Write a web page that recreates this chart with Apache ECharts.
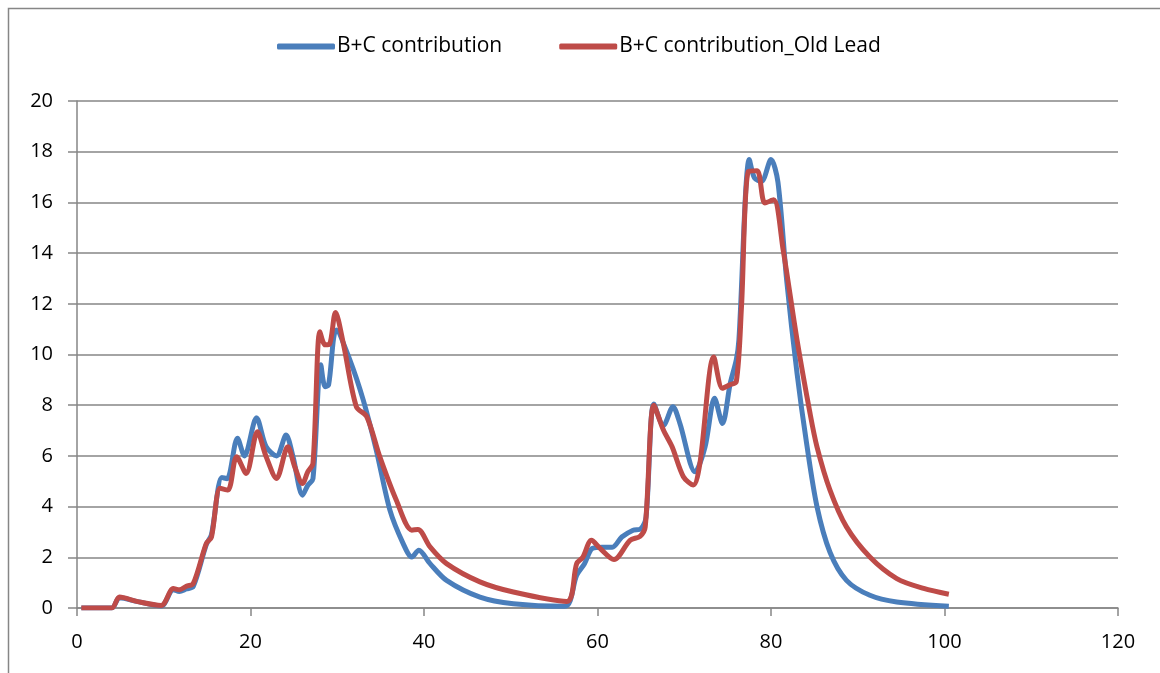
<!DOCTYPE html>
<html><head><meta charset="utf-8">
<script src="https://cdn.jsdelivr.net/npm/echarts@6/dist/echarts.min.js"></script>
<style>html,body{margin:0;padding:0;background:#fff}#c{width:1160px;height:673px}</style>
</head><body><div id="c"></div>
<script>
const seriesNames = ['B+C contribution', 'B+C contribution_Old Lead'];
const xTicks = [0, 20, 40, 60, 80, 100, 120];
const yTicks = [0, 2, 4, 6, 8, 10, 12, 14, 16, 18, 20];
const blueData = [[0.5,0],[4,0],[4.9,0.4],[7,0.25],[9.7,0.08],[11.1,0.72],[11.8,0.65],[12.6,0.75],[13.4,0.85],[14.9,2.5],[15.5,2.9],[16.7,5.15],[17.3,5.1],[18.5,6.7],[19.3,6.0],[20.7,7.5],[21.8,6.36],[23.0,6.0],[24.1,6.82],[24.9,5.97],[26.0,4.45],[26.6,4.84],[27.2,5.1],[28.1,9.6],[28.6,8.73],[29.0,8.8],[29.9,10.97],[31.45,9.79],[33.0,8.2],[34.5,6.23],[36.07,3.86],[37.6,2.54],[38.6,2.01],[39.4,2.28],[40.7,1.75],[42.6,1.09],[46.45,0.43],[50.3,0.17],[56.25,0.07],[57.6,1.29],[58.5,1.75],[59.4,2.35],[60.5,2.4],[61.7,2.4],[62.8,2.8],[64.1,3.07],[65.0,3.13],[65.6,3.6],[66.5,8.05],[67.6,7.2],[68.7,7.94],[69.5,7.28],[71.25,5.37],[72.4,6.36],[73.5,8.27],[74.4,7.28],[75.3,8.86],[76.0,9.79],[76.3,10.58],[77.5,17.69],[78.1,16.96],[78.9,16.83],[80.0,17.69],[80.8,16.8],[81.8,12.95],[83.0,9.26],[84.1,6.5],[85.3,4.0],[86.8,2.2],[88.7,1.09],[91.4,0.5],[94.5,0.24],[100.5,0.07]];
const redData = [[0.5,0],[4,0],[4.9,0.43],[7,0.25],[9.7,0.1],[11.1,0.77],[11.8,0.72],[12.6,0.86],[13.4,0.96],[14.9,2.54],[15.5,2.8],[16.5,4.72],[17.4,4.65],[18.4,5.97],[19.5,5.31],[20.8,6.95],[21.8,5.97],[23.0,5.11],[24.3,6.36],[25.1,5.57],[26.0,4.91],[26.6,5.37],[27.2,5.7],[28.0,10.9],[28.6,10.38],[29.1,10.4],[29.8,11.66],[30.7,10.44],[32.2,7.94],[33.4,7.55],[34.9,5.97],[36.8,4.26],[38.6,3.07],[39.3,3.1],[40.7,2.41],[42.6,1.75],[46.45,1.03],[50.3,0.63],[56.45,0.26],[57.6,1.75],[58.3,2.0],[59.3,2.67],[60.3,2.35],[61.9,1.91],[63.75,2.67],[64.9,2.83],[65.5,3.2],[66.5,8.0],[67.6,7.02],[68.6,6.36],[69.9,5.18],[71.05,4.85],[71.8,5.7],[73.4,9.9],[74.4,8.67],[75.2,8.8],[76.0,8.93],[76.6,11.9],[77.4,17.23],[78.4,17.25],[79.3,15.98],[80.3,16.1],[81.4,14.13],[83.0,10.58],[84.5,7.68],[85.3,6.36],[86.8,4.65],[88.7,3.2],[91.4,2.01],[94.5,1.16],[97.6,0.77],[100.5,0.54]];

const chart = echarts.init(document.getElementById('c'));
const gray = '#868686';
const font = 'Open Sans';
chart.setOption({
  animation: false,
  graphic: [{type:'rect', shape:{x:8.5,y:8.5,width:1200,height:700}, style:{fill:'none', stroke:gray, lineWidth:1.5}, silent:true}],
  legend: {
    top: 31, left: 272, itemWidth: 58, itemHeight: 6, itemGap: 57,
    icon: 'roundRect',
    textStyle: {fontFamily: font, fontSize: 21, color: '#000', padding:[0,0,0,-3]},
    data: seriesNames
  },
  grid: {left: 77, right: 42, top: 101, bottom: 65},
  xAxis: {
    type: 'value', min: xTicks[0], max: xTicks[xTicks.length-1], interval: 20,
    axisLine: {show: true, lineStyle: {color: gray, width: 1.5}},
    axisTick: {show: true, inside: false, length: 8, lineStyle: {color: gray, width: 1.5}},
    axisLabel: {fontFamily: font, fontSize: 20, color: '#000', margin: 24},
    splitLine: {show: false}
  },
  yAxis: {
    type: 'value', min: yTicks[0], max: yTicks[yTicks.length-1], interval: 2,
    axisLine: {show: true, lineStyle: {color: gray, width: 1.5}},
    axisTick: {show: true, inside: false, length: 9, lineStyle: {color: gray, width: 1.5}},
    axisLabel: {fontFamily: font, fontSize: 20, color: '#000', margin: 24},
    splitLine: {show: true, lineStyle: {color: gray, width: 1.5}}
  },
  series: [
    {name: seriesNames[0], type: 'line', data: blueData, smooth: 0.3, showSymbol: false,
     lineStyle: {color: '#4A7EBB', width: 5}, itemStyle: {color: '#4A7EBB'}},
    {name: seriesNames[1], type: 'line', data: redData, smooth: 0.3, showSymbol: false,
     lineStyle: {color: '#BE4B48', width: 5}, itemStyle: {color: '#BE4B48'}}
  ]
});
</script></body></html>
